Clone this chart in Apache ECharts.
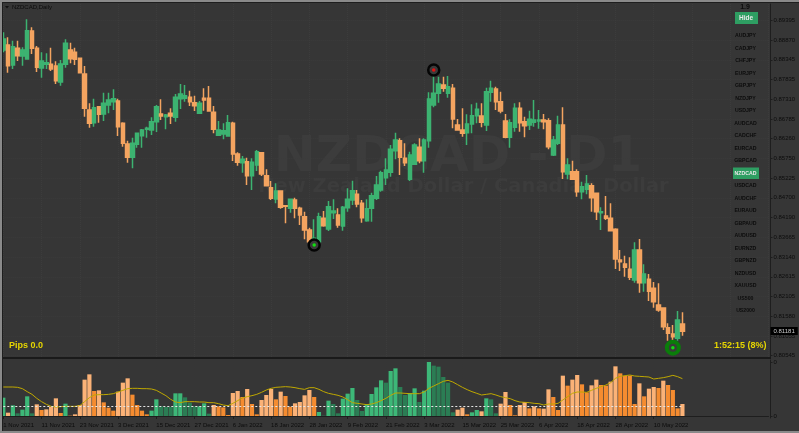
<!DOCTYPE html>
<html>
<head>
<meta charset="utf-8">
<style>html,body{margin:0;padding:0;background:#363636}#chart{width:799px;height:433px}</style>
<script src="https://cdn.jsdelivr.net/npm/echarts@6/dist/echarts.min.js"></script>
</head>
<body>
<div id="chart"></div>
<script>
// NZDCAD daily, values
const opens = [0.88603,0.88735,0.88207,0.88647,0.88445,0.88365,0.89105,0.88647,0.88128,0.88225,0.88225,0.88181,0.87758,0.88225,0.88603,0.88541,0.88383,0.87969,0.87019,0.86685,0.87107,0.86913,0.87151,0.87239,0.87257,0.86667,0.86121,0.85769,0.86113,0.86341,0.86509,0.86491,0.86711,0.86913,0.86843,0.86931,0.86825,0.87318,0.87327,0.87353,0.87213,0.86931,0.87327,0.87327,0.86957,0.86350,0.86385,0.86333,0.86667,0.85857,0.85629,0.85655,0.85285,0.85567,0.85893,0.85285,0.84969,0.84669,0.84881,0.84493,0.84423,0.84643,0.84423,0.84203,0.83851,0.83411,0.83543,0.84159,0.83877,0.84309,0.84247,0.83957,0.84441,0.84643,0.84793,0.84555,0.84097,0.84423,0.84687,0.84907,0.85233,0.85373,0.85945,0.86209,0.85743,0.85189,0.85585,0.86033,0.85681,0.86209,0.87151,0.87459,0.87679,0.87459,0.87591,0.86623,0.86491,0.86421,0.86649,0.86869,0.86861,0.86623,0.87485,0.87573,0.87239,0.86729,0.86297,0.86561,0.87063,0.86711,0.86623,0.86693,0.86729,0.86755,0.86737,0.85831,0.86139,0.86623,0.85329,0.85391,0.85391,0.84863,0.84925,0.85021,0.84819,0.84309,0.84221,0.84159,0.83869,0.83059,0.82953,0.82813,0.82531,0.83323,0.82461,0.82549,0.82311,0.81871,0.81792,0.81273,0.81105,0.80991,0.81369];
const closes = [0.88893,0.88189,0.88691,0.88453,0.88603,0.89113,0.88647,0.88145,0.88313,0.88269,0.88101,0.87793,0.88233,0.88779,0.88374,0.88357,0.88005,0.87063,0.86667,0.87081,0.86905,0.87195,0.87283,0.87318,0.86579,0.86139,0.85769,0.86139,0.86403,0.86491,0.86535,0.86711,0.87107,0.86861,0.86887,0.86861,0.87353,0.87441,0.87397,0.87239,0.87133,0.87195,0.87283,0.86993,0.86509,0.86491,0.86473,0.86685,0.85857,0.85637,0.85717,0.85285,0.85637,0.85919,0.85329,0.85021,0.84687,0.84881,0.84449,0.84476,0.84661,0.84423,0.84247,0.83851,0.83543,0.83631,0.84203,0.83965,0.84467,0.84353,0.83983,0.84449,0.84661,0.84889,0.84537,0.84177,0.84414,0.84757,0.85039,0.85365,0.85435,0.85981,0.86227,0.85769,0.85629,0.85831,0.86095,0.85681,0.86227,0.87309,0.87459,0.87705,0.87591,0.87635,0.86781,0.86491,0.86403,0.86649,0.86869,0.87037,0.86693,0.87503,0.87591,0.87239,0.86993,0.86297,0.86685,0.87063,0.86685,0.86605,0.86773,0.86755,0.86755,0.86711,0.86051,0.86227,0.86623,0.85391,0.85567,0.85189,0.84863,0.84995,0.85065,0.84705,0.84335,0.84335,0.84159,0.83833,0.83085,0.83015,0.82865,0.82601,0.83323,0.82461,0.82689,0.82232,0.81959,0.81739,0.81299,0.81123,0.81035,0.81475,0.81181];
const lows = [0.88541,0.88005,0.88101,0.88313,0.88189,0.88365,0.88497,0.88022,0.87873,0.88101,0.88049,0.87705,0.87661,0.88137,0.88251,0.88207,0.87987,0.86843,0.86553,0.86579,0.86685,0.86729,0.86931,0.87019,0.86333,0.86051,0.85629,0.85479,0.86025,0.86025,0.86289,0.86359,0.86438,0.86755,0.86509,0.86649,0.86711,0.87045,0.87239,0.87125,0.86993,0.86931,0.87001,0.86975,0.86403,0.86350,0.86245,0.86333,0.85673,0.85549,0.85365,0.85039,0.84907,0.85409,0.85277,0.85013,0.84643,0.84555,0.84414,0.84027,0.84309,0.84159,0.83983,0.83605,0.83543,0.83411,0.83499,0.83939,0.83825,0.84141,0.83913,0.83833,0.84335,0.84511,0.84449,0.84045,0.84071,0.84071,0.84643,0.84863,0.85039,0.85259,0.85717,0.85303,0.85541,0.85145,0.85567,0.85611,0.85365,0.86025,0.87089,0.87213,0.87503,0.87345,0.86535,0.86473,0.86315,0.86095,0.86403,0.86667,0.86561,0.86465,0.87239,0.87019,0.86931,0.86271,0.86025,0.86447,0.86447,0.86297,0.86491,0.86579,0.86526,0.86509,0.85981,0.85805,0.86095,0.85197,0.85189,0.85171,0.84731,0.84661,0.84793,0.84335,0.84115,0.83851,0.84115,0.83833,0.82821,0.82769,0.82619,0.82531,0.82461,0.82197,0.82223,0.81977,0.81801,0.81695,0.81211,0.80929,0.80771,0.80929,0.81061];
const highs = [0.89069,0.88937,0.88849,0.88849,0.88673,0.89413,0.89201,0.88709,0.88541,0.88515,0.88665,0.88304,0.88339,0.88885,0.88797,0.88665,0.88392,0.88181,0.87195,0.87318,0.87125,0.87477,0.87477,0.87565,0.87318,0.86693,0.86209,0.86289,0.86403,0.86517,0.86579,0.86825,0.87151,0.87301,0.86913,0.87063,0.87441,0.87705,0.87679,0.87529,0.87397,0.87257,0.87591,0.87653,0.87125,0.86729,0.86667,0.86887,0.86711,0.85901,0.85805,0.85761,0.85743,0.85963,0.85893,0.85453,0.85145,0.85083,0.84881,0.84511,0.84669,0.84705,0.84467,0.84335,0.83913,0.84133,0.84309,0.84353,0.84617,0.84661,0.84423,0.84485,0.84951,0.85153,0.84907,0.84643,0.84661,0.84837,0.85277,0.85417,0.85743,0.86095,0.86421,0.86271,0.86139,0.85919,0.86139,0.86271,0.86271,0.87485,0.87969,0.87899,0.87899,0.87917,0.87705,0.86781,0.87063,0.86905,0.87169,0.87213,0.87195,0.87609,0.87793,0.87635,0.87503,0.86913,0.86773,0.87195,0.87221,0.86843,0.87001,0.87283,0.87019,0.86913,0.86799,0.86333,0.86869,0.87089,0.85743,0.85681,0.85453,0.85127,0.85303,0.85083,0.84819,0.84449,0.84749,0.84555,0.83895,0.83323,0.83173,0.83129,0.83525,0.83613,0.82945,0.82689,0.82478,0.82443,0.81801,0.81387,0.81343,0.81713,0.81677];
const volumes = [55,10,32,8,19,59,8,35,18,20,28,53,9,37,1,5,33,109,125,75,77,41,25,16,73,100,113,64,33,16,5,16,50,29,27,27,68,68,56,40,29,29,38,7,33,29,26,3,69,75,57,81,36,5,48,63,81,50,73,60,28,38,42,62,78,57,12,1,46,36,8,52,67,84,48,15,36,66,86,107,100,135,143,87,63,69,83,42,76,162,151,148,117,100,11,19,25,5,11,18,14,53,50,8,37,72,33,2,33,42,23,29,23,22,80,57,18,121,91,109,123,95,71,92,109,93,91,103,149,128,120,121,36,98,59,82,87,84,106,93,78,23,36];
// 2 bull rising, 1 bull fading, -2 bear rising, -1 bear fading
const volumeStates = [2,-2,2,1,2,2,1,-2,-1,-2,-2,-2,-1,2,-1,-2,-2,-2,-2,-1,-2,-1,-1,-1,-2,-2,-2,-1,-1,-1,-1,2,2,1,1,1,2,2,1,1,1,2,2,1,-2,-1,-1,-1,-2,-2,-1,-2,-1,-1,-2,-2,-2,-1,-2,-1,-1,-2,-2,-2,-2,-1,2,1,2,1,1,2,2,2,1,1,2,2,2,2,1,2,2,1,1,2,2,1,2,2,1,1,1,1,1,-2,-2,-1,2,2,-2,2,1,1,-2,-2,-1,-1,-2,-2,-1,-2,-1,-2,-2,-1,-1,-2,-1,-2,-2,-1,-1,-2,-2,-1,-1,-2,-2,-1,-1,-1,-1,-2,-1,-2,-2,-1,-2,-1,-1,-1,-2];
const volumeAverage = [87,87,87,86,82,73,65,53,43,35,29,27,28,29,29,29,31,43,55,63,64,64,65,67,72,77,82,83,83,82,82,81,77,69,61,50,42,40,43,43,43,42,42,40,40,37,33,31,38,46,54,58,61,65,71,78,83,86,87,88,87,85,82,80,85,85,80,73,68,65,62,57,49,40,38,36,34,36,40,46,53,62,69,69,68,67,67,67,72,83,90,97,104,107,102,94,86,79,73,68,63,65,67,63,58,55,52,46,42,41,40,38,37,33,36,36,38,48,58,68,72,72,71,77,83,88,93,100,113,119,121,123,120,119,118,117,111,113,115,118,122,118,112];
const volumeLevel = 29;
const priceTicks = [0.89395,0.88870,0.88345,0.87835,0.87310,0.86785,0.86260,0.85750,0.85225,0.84700,0.84190,0.83665,0.83140,0.82615,0.82105,0.81580,0.81055,0.80545];
const dateTicks = ['1 Nov 2021','11 Nov 2021','23 Nov 2021','3 Dec 2021','15 Dec 2021','27 Dec 2021','6 Jan 2022','18 Jan 2022','28 Jan 2022','9 Feb 2022','21 Feb 2022','3 Mar 2022','15 Mar 2022','25 Mar 2022','6 Apr 2022','18 Apr 2022','28 Apr 2022','10 May 2022'];
const symbols = ['AUDJPY','CADJPY','CHFJPY','EURJPY','GBPJPY','NZDJPY','USDJPY','AUDCAD','CADCHF','EURCAD','GBPCAD','NZDCAD','USDCAD','AUDCHF','EURAUD','GBPAUD','AUDUSD','EURNZD','GBPNZD','NZDUSD','XAUUSD','US500','US2000'];
const activeSymbol = 'NZDCAD';
const signalBars = [65, 90, 140];
const signalPrices = [0.83455, 0.88075, 0.80745];
const lastPrice = 0.81181;

const upColor = '#3cb371', downColor = '#f4a460';
const barColors = {'2': '#3db878', '1': '#2b7d54', '-2': '#fbb277', '-1': '#f58c30'};
const axisText = '#0c0c0c';
const slots = Array.from({length: 161}, (_, i) => i); // chart leaves room on the right
const onTick = i => i % 8 === 0 && i / 8 < dateTicks.length;

const symbolTexts = [];
symbols.forEach((s, i) => {
  const y = 36 + i * 12.5;
  const active = s === activeSymbol;
  if (active) symbolTexts.push({type: 'rect', shape: {x: 733, y: y - 6, width: 26, height: 11.5}, style: {fill: '#2e9e62'}, z: 20});
  symbolTexts.push({type: 'text', x: 745.5, y: y, z: 21, style: {text: s, fill: active ? '#e8e8e8' : axisText, font: 'bold 5.2px "Liberation Sans"', align: 'center', verticalAlign: 'middle'}});
});

const chart = echarts.init(document.getElementById('chart'));
chart.setOption({
  animation: false,
  backgroundColor: '#363636',
  grid: [
    {left: 3.3, top: 4, width: 765.2, height: 353},
    {left: 3.3, top: 360, width: 765.2, height: 58}
  ],
  xAxis: [
    {
      type: 'category', gridIndex: 0, data: slots, boundaryGap: false,
      axisLine: {show: false}, axisTick: {show: false}, axisLabel: {show: false},
      splitLine: {show: true, interval: i => i % 8 === 0, lineStyle: {color: '#3c3c3c', type: 'dotted', width: 1}}
    },
    {
      type: 'category', gridIndex: 1, data: slots, boundaryGap: false,
      axisLine: {lineStyle: {color: '#1e1e1e', width: 1}},
      axisTick: {interval: i => onTick(i), length: 3, lineStyle: {color: '#1e1e1e'}},
      axisLabel: {
        interval: i => onTick(i), margin: 4, align: 'left', color: axisText,
        fontFamily: 'Liberation Sans', fontSize: 6,
        formatter: (v, i) => dateTicks[i / 8] || ''
      },
      splitLine: {show: false}
    }
  ],
  yAxis: [
    {
      type: 'value', gridIndex: 0, position: 'right', offset: 2, min: 0.80498, max: 0.89817,
      axisLine: {show: true, lineStyle: {color: '#1e1e1e'}},
      axisTick: {show: true, length: 2, customValues: priceTicks, lineStyle: {color: '#1e1e1e'}},
      axisLabel: {customValues: priceTicks, margin: 3, color: axisText, fontFamily: 'Liberation Sans', fontSize: 6, formatter: v => v.toFixed(5)},
      splitLine: {show: true, lineStyle: {color: '#3c3c3c', type: 'dotted', width: 1}}
    },
    {
      type: 'value', gridIndex: 1, position: 'right', offset: 2, min: -6, max: 168,
      axisLine: {show: true, lineStyle: {color: '#1e1e1e'}},
      axisTick: {show: true, length: 2, customValues: [0, 160], lineStyle: {color: '#1e1e1e'}},
      axisLabel: {customValues: [0, 160], margin: 3, color: axisText, fontFamily: 'Liberation Sans', fontSize: 6, formatter: () => '0'},
      splitLine: {show: false}
    }
  ],
  series: [
    {
      type: 'candlestick', xAxisIndex: 0, yAxisIndex: 0, barWidth: 4, z: 5,
      data: opens.map((o, i) => [o, closes[i], lows[i], highs[i]]),
      itemStyle: {color: upColor, color0: downColor, borderColor: upColor, borderColor0: downColor, borderWidth: 1.5},
      markLine: {
        silent: true, symbol: 'none', lineStyle: {color: 'rgba(0,0,0,0)', width: 0},
        label: {show: true, position: 'end', offset: [0, -7], formatter: lastPrice.toFixed(5), color: '#cccccc', backgroundColor: '#000000', fontFamily: 'Liberation Sans', fontSize: 6, padding: [1, 3], distance: 2},
        data: [{yAxis: lastPrice}]
      }
    },
    {
      type: 'scatter', xAxisIndex: 0, yAxisIndex: 0, z: 6,
      data: signalBars.map((b, i) => ({
        value: [b, signalPrices[i]],
        symbolSize: i === 2 ? 12 : 11,
        itemStyle: {color: '#3a3a3a', opacity: 1, borderWidth: i === 2 ? 4 : 2.5, borderColor: i === 2 ? '#0a7d0a' : '#050505'}
      }))
    },
    {
      type: 'scatter', xAxisIndex: 0, yAxisIndex: 0, z: 7, symbolSize: 3.5,
      data: signalBars.map((b, i) => ({
        value: [b, signalPrices[i]],
        itemStyle: {opacity: 1, color: i === 1 ? '#e01010' : '#10e010'}
      }))
    },
    {
      type: 'bar', xAxisIndex: 1, yAxisIndex: 1, barWidth: 4.2, data: volumes,
      itemStyle: {color: p => barColors[volumeStates[p.dataIndex]]},
      markLine: {
        silent: true, symbol: 'none', label: {show: false},
        lineStyle: {color: '#e6e6e6', type: [2, 2], width: 1},
        data: [[{coord: [0, volumeLevel]}, {coord: [142, volumeLevel]}]]
      }
    },
    {
      type: 'line', xAxisIndex: 1, yAxisIndex: 1, data: volumeAverage, showSymbol: false, z: 4,
      lineStyle: {color: '#bfa800', width: 1}
    }
  ],
  graphic: {elements: [
    // watermark
    {type: 'text', x: 458, y: 158, z: 0, silent: true, style: {text: 'NZDCAD - D1', fill: '#3c3c3c', font: 'bold 50px "DejaVu Sans"', align: 'center', verticalAlign: 'middle'}},
    {type: 'text', x: 463.5, y: 187, z: 0, silent: true, style: {text: 'New Zealand Dollar / Canadian Dollar', fill: '#3c3c3c', font: 'bold 19.5px "DejaVu Sans"', align: 'center', verticalAlign: 'middle'}},
    // window frame
    {type: 'rect', shape: {x: 0, y: 0, width: 799, height: 2}, style: {fill: '#8a8a8a'}, z: 30},
    {type: 'rect', shape: {x: 0, y: 2, width: 799, height: 1}, style: {fill: '#1e1e1e'}, z: 30},
    {type: 'rect', shape: {x: 0, y: 0, width: 2, height: 433}, style: {fill: '#8a8a8a'}, z: 30},
    {type: 'rect', shape: {x: 2, y: 2, width: 1, height: 431}, style: {fill: '#1e1e1e'}, z: 30},
    {type: 'rect', shape: {x: 0, y: 431, width: 799, height: 2}, style: {fill: '#8a8a8a'}, z: 30},
    {type: 'rect', shape: {x: 3, y: 357, width: 768, height: 2}, style: {fill: '#1a1a1a'}, z: 30},
    // header
    {type: 'polygon', shape: {points: [[5, 6], [9, 6], [7, 8.5]]}, style: {fill: '#111111'}, z: 20},
    {type: 'text', x: 12, y: 7.5, z: 20, style: {text: 'NZDCAD,Daily', fill: axisText, font: '6px "Liberation Sans"', verticalAlign: 'middle'}},
    {type: 'text', x: 745, y: 7.5, z: 20, style: {text: '1.9', fill: axisText, font: 'bold 7px "Liberation Sans"', align: 'center', verticalAlign: 'middle'}},
    {type: 'rect', shape: {x: 735, y: 12, width: 23, height: 12}, style: {fill: '#2e9e62'}, z: 20},
    {type: 'text', x: 746, y: 18, z: 21, style: {text: 'Hide', fill: '#e8e8e8', font: 'bold 6.5px "Liberation Sans"', align: 'center', verticalAlign: 'middle'}},
    // footer readouts
    {type: 'text', x: 9, y: 345.5, z: 20, style: {text: 'Pips 0.0', fill: '#e6d600', font: 'bold 9px "Liberation Sans"', verticalAlign: 'middle'}},
    {type: 'text', x: 714, y: 345.5, z: 20, style: {text: '1:52:15 (8%)', fill: '#e6d600', font: 'bold 9px "Liberation Sans"', verticalAlign: 'middle'}}
  ].concat(symbolTexts)}
});
</script>
</body>
</html>
